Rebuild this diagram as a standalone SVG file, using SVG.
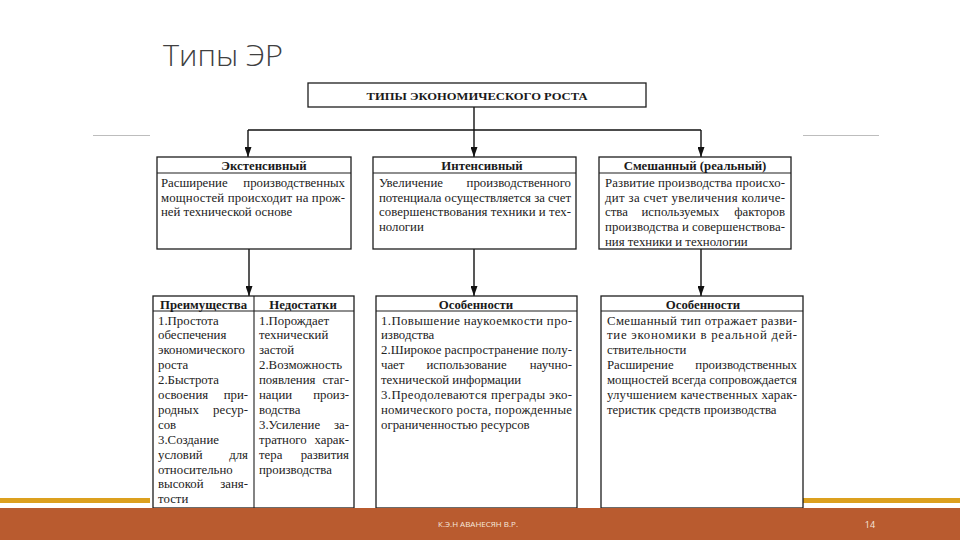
<svg xmlns="http://www.w3.org/2000/svg" width="960" height="540" viewBox="0 0 960 540">
<defs>
<style>
.box{fill:#fff;stroke:#1e1e1e;stroke-width:1.3}
.sep{stroke:#1e1e1e;stroke-width:1.1;fill:none}
.t{font-family:"Liberation Serif","Times New Roman",serif;font-size:12.8px;fill:#222}
.e{text-anchor:end}
.h{font-family:"Liberation Serif","Times New Roman",serif;font-size:12.8px;font-weight:bold;fill:#1a1a1a;text-anchor:middle}
.c{stroke:#111;stroke-width:1.4;fill:none}
</style>
<marker id="arr" viewBox="0 0 10 7" refX="10" refY="3.5" markerWidth="10" markerHeight="7" markerUnits="userSpaceOnUse" orient="auto">
<path d="M0,0 L10,3.5 L0,7 z" fill="#111"/>
</marker>
</defs>
<rect width="960" height="540" fill="#fff"/>
<line x1="93" y1="135.5" x2="150" y2="135.5" stroke="#bdbdbd" stroke-width="1"/>
<line x1="803" y1="135.5" x2="879" y2="135.5" stroke="#bdbdbd" stroke-width="1"/>
<rect x="0" y="498" width="150" height="5" fill="#DCA01E"/>
<rect x="803" y="498" width="157" height="5" fill="#DCA01E"/>
<text x="163" y="66" font-family="'Open Sans','Liberation Sans',sans-serif" font-weight="300" font-size="30" fill="#404040" textLength="120" lengthAdjust="spacingAndGlyphs">Типы ЭР</text>

<g id="connectors">
<line class="c" x1="474" y1="107" x2="474" y2="130"/>
<line class="c" x1="248" y1="130" x2="701" y2="130"/>
<line class="c" x1="248" y1="130" x2="248" y2="157" marker-end="url(#arr)"/>
<line class="c" x1="474" y1="130" x2="474" y2="157" marker-end="url(#arr)"/>
<line class="c" x1="701" y1="130" x2="701" y2="157" marker-end="url(#arr)"/>
<line class="c" x1="249" y1="249" x2="249" y2="296" marker-end="url(#arr)"/>
<line class="c" x1="474" y1="249" x2="474" y2="296" marker-end="url(#arr)"/>
<line class="c" x1="701" y1="249" x2="701" y2="296" marker-end="url(#arr)"/>
</g>

<g id="root">
<rect class="box" x="308" y="83" width="338" height="24"/>
<text x="477" y="99.5" font-family="'Liberation Serif',serif" font-size="11" font-weight="bold" fill="#1a1a1a" text-anchor="middle" textLength="221" lengthAdjust="spacingAndGlyphs">ТИПЫ ЭКОНОМИЧЕСКОГО РОСТА</text>
</g>

<g id="extensive">
<rect class="box" x="157" y="157" width="194" height="92"/>
<line class="sep" x1="157" y1="173" x2="351" y2="173"/>
<text class="h" x="264" y="170">Экстенсивный</text>
<text class="t" x="161" y="187">Расширение</text><text class="t e" x="345" y="187">производственных</text>
<text class="t" x="161" y="201.7" textLength="184" lengthAdjust="spacing">мощностей происходит на прож-</text>
<text class="t" x="161" y="216.4">ней технической основе</text>
</g>

<g id="intensive">
<rect class="box" x="373" y="157" width="203" height="92"/>
<line class="sep" x1="373" y1="173" x2="576" y2="173"/>
<text class="h" x="482" y="170">Интенсивный</text>
<text class="t" x="379" y="187">Увеличение</text><text class="t e" x="571" y="187">производственного</text>
<text class="t" x="379" y="201.7" textLength="192" lengthAdjust="spacing">потенциала осуществляется за счет</text>
<text class="t" x="379" y="216.4" textLength="192" lengthAdjust="spacing">совершенствования техники и тех-</text>
<text class="t" x="379" y="231.1">нологии</text>
</g>

<g id="mixed">
<rect class="box" x="599" y="157" width="192" height="92"/>
<line class="sep" x1="599" y1="173" x2="791" y2="173"/>
<text class="h" x="695" y="170">Смешанный (реальный)</text>
<text class="t" x="605" y="187" textLength="180" lengthAdjust="spacing">Развитие производства происхо-</text>
<text class="t" x="605" y="201.7" textLength="180" lengthAdjust="spacing">дит за счет увеличения количе-</text>
<text class="t" x="605" y="216.4">ства</text><text class="t" x="641.5" y="216.4">используемых</text><text class="t e" x="785" y="216.4">факторов</text>
<text class="t" x="605" y="231.1" textLength="180" lengthAdjust="spacing">производства и совершенствова-</text>
<text class="t" x="605" y="245.8">ния техники и технологии</text>
</g>

<g id="pros-cons">
<rect class="box" x="153" y="296" width="201" height="212"/>
<line class="sep" x1="153" y1="311" x2="354" y2="311"/>
<line class="sep" x1="254" y1="296" x2="254" y2="508"/>
<text class="h" x="203.5" y="308.5">Преимущества</text>
<text class="h" x="303" y="308.5">Недостатки</text>
<text class="t" x="158" y="324.5">1.Простота</text>
<text class="t" x="158" y="339.4">обеспечения</text>
<text class="t" x="158" y="354.3">экономического</text>
<text class="t" x="158" y="369.2">роста</text>
<text class="t" x="158" y="384.1">2.Быстрота</text>
<text class="t" x="158" y="399">освоения</text><text class="t e" x="248" y="399">при-</text>
<text class="t" x="158" y="413.9">родных</text><text class="t e" x="248" y="413.9">ресур-</text>
<text class="t" x="158" y="428.8">сов</text>
<text class="t" x="158" y="443.7">3.Создание</text>
<text class="t" x="158" y="458.6">условий</text><text class="t e" x="248" y="458.6">для</text>
<text class="t" x="158" y="473.5">относительно</text>
<text class="t" x="158" y="488.4">высокой</text><text class="t e" x="248" y="488.4">заня-</text>
<text class="t" x="158" y="503.3">тости</text>
<text class="t" x="259" y="324.5">1.Порождает</text>
<text class="t" x="259" y="339.4">технический</text>
<text class="t" x="259" y="354.3">застой</text>
<text class="t" x="259" y="369.2">2.Возможность</text>
<text class="t" x="259" y="384.1">появления</text><text class="t e" x="349" y="384.1">стаг-</text>
<text class="t" x="259" y="399">нации</text><text class="t e" x="349" y="399">произ-</text>
<text class="t" x="259" y="413.9">водства</text>
<text class="t" x="259" y="428.8">3.Усиление</text><text class="t e" x="349" y="428.8">за-</text>
<text class="t" x="259" y="443.7">тратного</text><text class="t e" x="349" y="443.7">харак-</text>
<text class="t" x="259" y="458.6">тера</text><text class="t e" x="349" y="458.6">развития</text>
<text class="t" x="259" y="473.5">производства</text>
</g>

<g id="intensive-features">
<rect class="box" x="376" y="296" width="201" height="212"/>
<line class="sep" x1="376" y1="311" x2="577" y2="311"/>
<text class="h" x="476" y="308.5">Особенности</text>
<text class="t" x="381" y="324.5" textLength="191" lengthAdjust="spacing">1.Повышение наукоемкости про-</text>
<text class="t" x="381" y="339.4">изводства</text>
<text class="t" x="381" y="354.3" textLength="191" lengthAdjust="spacing">2.Широкое распространение полу-</text>
<text class="t" x="381" y="369.2">чает</text><text class="t" x="426.5" y="369.2">использование</text><text class="t e" x="572" y="369.2">научно-</text>
<text class="t" x="381" y="384.1">технической информации</text>
<text class="t" x="381" y="399" textLength="191" lengthAdjust="spacing">3.Преодолеваются преграды эко-</text>
<text class="t" x="381" y="413.9" textLength="191" lengthAdjust="spacing">номического роста, порожденные</text>
<text class="t" x="381" y="428.8">ограниченностью ресурсов</text>
</g>

<g id="mixed-features">
<rect class="box" x="601" y="296" width="202" height="212"/>
<line class="sep" x1="601" y1="311" x2="803" y2="311"/>
<text class="h" x="703" y="308.5">Особенности</text>
<text class="t" x="607" y="324.5" textLength="190" lengthAdjust="spacing">Смешанный тип отражает разви-</text>
<text class="t" x="607" y="339.4" textLength="190" lengthAdjust="spacing">тие экономики в реальной дей-</text>
<text class="t" x="607" y="354.3">ствительности</text>
<text class="t" x="607" y="369.2">Расширение</text><text class="t e" x="797" y="369.2">производственных</text>
<text class="t" x="607" y="384.1" textLength="190" lengthAdjust="spacing">мощностей всегда сопровождается</text>
<text class="t" x="607" y="399" textLength="190" lengthAdjust="spacing">улучшением качественных харак-</text>
<text class="t" x="607" y="413.9">теристик средств производства</text>
</g>

<rect x="0" y="508" width="960" height="32" fill="#B95B2F"/>
<text x="478" y="527" font-family="'Open Sans','Liberation Sans',sans-serif" font-size="8" fill="#F6E7DC" text-anchor="middle">К.Э.Н АВАНЕСЯН В.Р.</text>
<text x="870" y="527.5" font-family="'Open Sans','Liberation Sans',sans-serif" font-size="9" fill="#F6E7DC" text-anchor="middle">14</text>
</svg>
